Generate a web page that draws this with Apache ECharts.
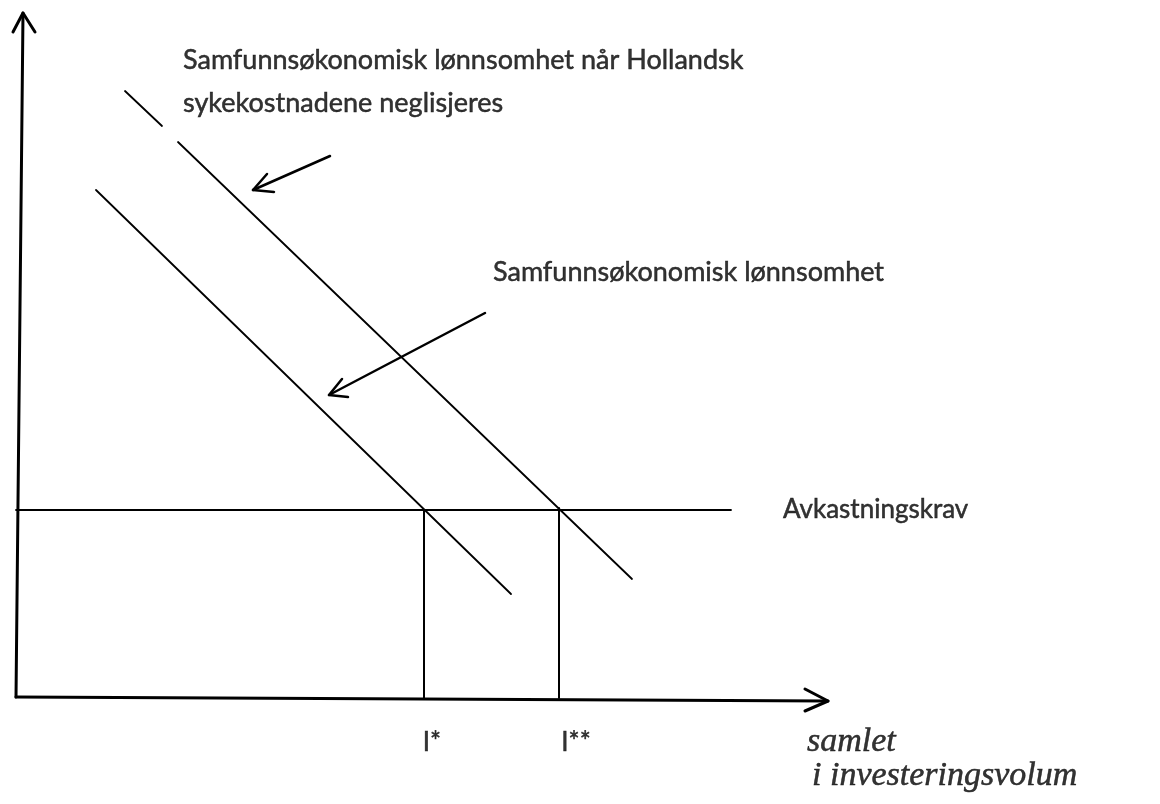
<!DOCTYPE html>
<html>
<head>
<meta charset="utf-8">
<title>Samfunnsøkonomisk lønnsomhet</title>
<script src="https://cdn.jsdelivr.net/npm/echarts@6/dist/echarts.min.js"></script>
<style>
  html, body { margin: 0; padding: 0; background: #fff; }
  #chart { width: 1160px; height: 804px; }
</style>
</head>
<body>
<div id="chart"></div>
<script>
// origin = where the two axes meet, units
const yAxisLine = [[0, 1], [7, 685]]
const yAxisHead = [[-3, 666], [7, 685], [19, 666]]
const xAxisLine = [[0, 1], [812, -3]]
const xAxisHead = [[789, 9], [812, -3], [789, -13]]

// lønnsomhet når sykekostnadene neglisjeres (upper line, broken at the top)
const upperLineA = [[109, 607], [146, 572]]
const upperLineB = [[162, 556], [616, 119]]
// samfunnsøkonomisk lønnsomhet (lower line)
const lowerLine = [[80, 508], [495, 104]]
// avkastningskrav
const requiredReturn = [[0, 188], [715, 188]]
const iStar = [[408, 188], [408, 0]]
const iStarStar = [[543, 190], [543, 0]]

const arrowTop = [[314, 542], [237, 508]]
const arrowTopHead = [[251, 524], [237, 508], [258, 506]]
const arrowMid = [[469, 385], [313, 303]]
const arrowMidHead = [[326, 319], [313, 303], [332, 301]]

const labelTop1 = 'Samfunnsøkonomisk lønnsomhet når Hollandsk'
const labelTop2 = 'sykekostnadene neglisjeres'
const labelMid = 'Samfunnsøkonomisk lønnsomhet'
const labelReturn = 'Avkastningskrav'
const tickLabels = ['I*', 'I**']
const tickPos = [[416, -45], [560, -45]]
const handLabels = ['samlet', 'i investeringsvolum']
const handPos = [[791, -44], [796, -78]]

const myChart = echarts.init(document.getElementById('chart'))

function seg(data, width) {
  return {
    type: 'line',
    data: data,
    symbol: 'none',
    clip: false,
    silent: true,
    lineStyle: { color: '#000', width: width, cap: 'round', join: 'round' }
  }
}

const textFont = 'Lato, "Open Sans", sans-serif'
const handFont = '"Liberation Serif", "DejaVu Serif", serif'

const labelData = [
  { value: [167, 638], name: labelTop1, fs: 27, align: 'left', font: textFont, style: 'normal' },
  { value: [167, 595], name: labelTop2, fs: 27, align: 'left', font: textFont, style: 'normal' },
  { value: [477, 426], name: labelMid, fs: 27, align: 'left', font: textFont, style: 'normal' },
  { value: [767, 188], name: labelReturn, fs: 26, align: 'left', font: textFont, style: 'normal' },
  { value: tickPos[0], name: tickLabels[0], fs: 26, align: 'center', font: textFont, style: 'normal' },
  { value: tickPos[1], name: tickLabels[1], fs: 26, align: 'center', font: textFont, style: 'normal' },
  { value: handPos[0], name: handLabels[0], fs: 34, align: 'left', font: handFont, style: 'italic' },
  { value: handPos[1], name: handLabels[1], fs: 34, align: 'left', font: handFont, style: 'italic' }
].map(d => ({
  value: d.value,
  name: d.name,
  label: {
    show: true,
    position: 'inside',
    formatter: '{b}',
    align: d.align,
    verticalAlign: 'middle',
    fontSize: d.fs,
    fontFamily: d.font,
    fontStyle: d.style,
    color: '#000',
    // the scanned text is a bit heavier than the regular cut
    textBorderColor: '#000',
    textBorderWidth: 0.5
  }
}))

myChart.setOption({
  animation: false,
  grid: { left: 0, right: 0, top: 0, bottom: 0 },
  xAxis: { type: 'value', min: -16, max: 1144, show: false },
  yAxis: { type: 'value', min: -106, max: 698, show: false },
  series: [
    seg(yAxisLine, 3),
    seg(yAxisHead, 3),
    seg(xAxisLine, 3),
    seg(xAxisHead, 3),
    seg(upperLineA, 1.8),
    seg(upperLineB, 1.8),
    seg(lowerLine, 1.8),
    seg(requiredReturn, 1.8),
    seg(iStar, 2),
    seg(iStarStar, 2),
    seg(arrowTop, 2.5),
    seg(arrowTopHead, 2.5),
    seg(arrowMid, 2.5),
    seg(arrowMidHead, 2.5),
    {
      type: 'scatter',
      data: labelData,
      symbolSize: 0,
      clip: false,
      silent: true
    }
  ]
})
window.addEventListener('resize', () => {
  myChart.resize()
})
</script>
</body>
</html>
